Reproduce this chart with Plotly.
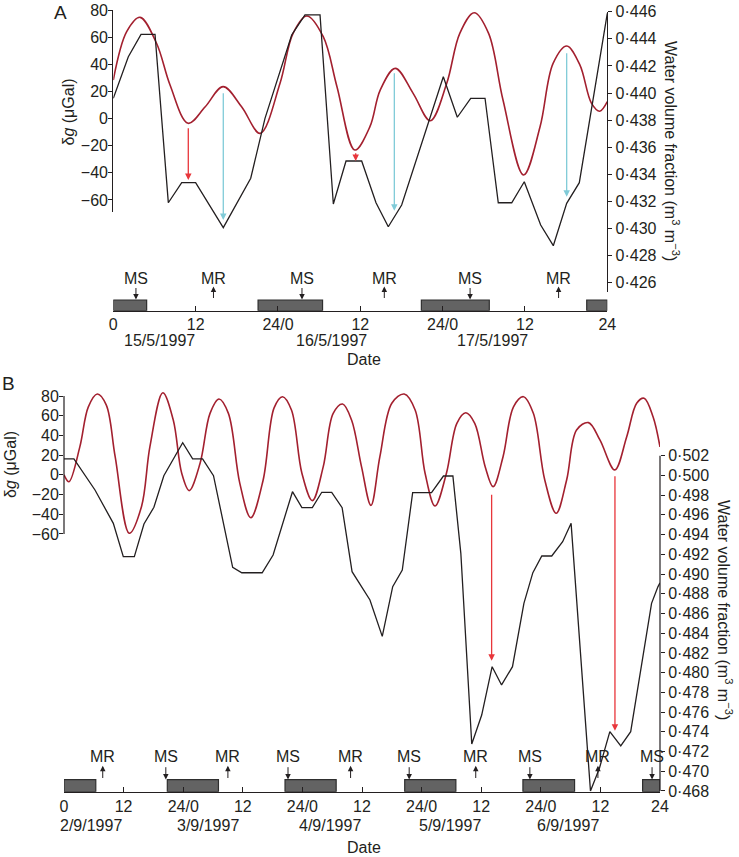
import plotly.graph_objects as go

W, H = 739, 857

# ---------------- Panel A : 15-17 May 1997 (hours) ----------------
A_grav_hours = [0, 1.95, 3.9, 6.3, 8.27, 10.9, 13.4, 16.0, 18.7, 21.4, 24.3, 26.2, 28.2, 30.6, 32.6,
                35.2, 37.4, 38.9, 41.1, 43.7, 46.2, 48.6, 50.5, 52.6, 54.7, 56.8, 59.8, 62.2, 64.1,
                66.1, 68.0, 69.7, 70.9, 72.0]
A_grav = [28.4, 64, 74.6, 55.5, 24.7, -3.5, 8.7, 23.5, 8.7, -10.9, 26, 62.8, 75.6, 60.3, 23.5,
          -23.2, -6, 21, 37, 18.6, -1.6, 26, 62.8, 78, 62.8, 13.7, -41.6, -6, 40.7,
          53.5, 39.5, 11.2, 5.4, 12.4]

A_water_hours = [0, 2.19, 4.04, 6.08, 8.02, 9.97, 12.0, 16.03, 20.03, 22.11, 26.0, 27.94, 30.13,
                 32.07, 33.92, 36.2, 38.29, 40.08, 42.03, 48.1, 50.14, 52.09, 54.18, 56.11, 58.07,
                 59.9, 62.29, 64.13, 66.08, 67.92, 72.0]
A_water = [0.43961, 0.44268, 0.44433, 0.44433, 0.43190, 0.43338, 0.43338, 0.43006, 0.43371,
           0.43813, 0.44428, 0.44576, 0.44576, 0.43181, 0.43498, 0.43498, 0.43190, 0.43013,
           0.43173, 0.44120, 0.43821, 0.43961, 0.43961, 0.43190, 0.43190, 0.43345, 0.43026,
           0.42873, 0.43186, 0.43338, 0.44588]

A_night_start = [0, 21.1, 44.9, 69.0]
A_night_end = [4.86, 30.5, 54.8, 72.0]
A_moon_labels = ["MS", "MR", "MS", "MR", "MS", "MR"]
A_moon_hours = [3.3, 14.6, 27.5, 39.5, 52.0, 64.9]

A_arrow_hours = [10.93, 16.03, 35.33, 40.96, 66.08]
A_arrow_from = [0.43751, 0.44010, 0.43567, 0.44157, 0.44305]
A_arrow_to = [0.43358, 0.43063, 0.43498, 0.43131, 0.43235]
A_arrow_kind = ["red", "cyan", "red", "cyan", "cyan"]

A_xtick_vals = [0, 12, 24, 36, 48, 60, 72]
A_xtick_text = ["0", "12", "24/0", "12", "24/0", "12", "24"]
A_dates = ["15/5/1997", "16/5/1997", "17/5/1997"]
A_date_hours = [6.73, 31.73, 55.34]
A_grav_ticks = [-60, -40, -20, 0, 20, 40, 60, 80]
A_water_ticks = [0.426, 0.428, 0.430, 0.432, 0.434, 0.436, 0.438, 0.440, 0.442, 0.444, 0.446]

# ---------------- Panel B : 2-6 September 1997 (hours) ----------------
B_grav_hours = [0, 1.0, 3.2, 4.9, 6.7, 8.5, 10.3, 13.15, 15.6, 17.3, 19.9, 22.0, 23.7, 25.2, 27.4,
                29.4, 31.2, 33.1, 35.4, 37.6, 40.1, 42.3, 44.0, 45.8, 47.9, 50.0, 52.2, 54.2, 56.1,
                57.9, 59.9, 61.8, 63.6, 66.0, 68.5, 70.7, 72.7, 74.7, 77.0, 79.1, 80.9, 82.7, 84.8,
                86.4, 88.4, 90.5, 92.5, 94.5, 96.8, 99.1, 101.2, 103.2, 105.6, 107.9, 110.9, 113.3,
                115.3, 116.8, 118.6, 120.0]
B_grav = [0, -7, 28.6, 69, 82, 71, 18.4, -59.3, -32.3, 28.6, 83.3, 55.6, 1.6, -16, 11.7,
          62.4, 77, 62.4, -8.6, -43.5, -5.2, 68, 79.3, 65.8, 1.6, -26.2, 8.3, 62.4, 71.9,
          55.6, 8.3, -31, 18.4, 72.6, 82, 65.8, 1.6, -31.6, 1.6, 52.3, 63, 52.3, 8.3,
          -12, 18.4, 69, 79.3, 62.4, -5.2, -39, -5.2, 45.5, 53, 35.4, 5, 38.7,
          72.6, 77.7, 59, 28.3]

B_water_hours = [0, 2.0, 6.24, 9.93, 11.94, 14.16, 16.1, 18.1, 20.1, 23.9, 25.9, 27.9, 30.1,
                 33.96, 35.8, 39.9, 42.1, 46.0, 47.9, 50.0, 51.9, 53.9, 56.0, 58.0, 61.6, 64.08,
                 66.18, 68.11, 70.2, 74.0, 76.4, 78.3, 79.9, 82.1, 84.1, 86.2, 88.1, 90.3, 92.6,
                 94.4, 96.2, 98.2, 100.4, 102.1, 106.0, 107.8, 109.9, 112.1, 114.1, 118.3, 119.6,
                 120.0]
B_water = [0.50167, 0.50167, 0.49852, 0.49514, 0.49176, 0.49176, 0.49507, 0.49677, 0.49997,
           0.50332, 0.50167, 0.50167, 0.49997, 0.49068, 0.49013, 0.49013, 0.49193, 0.49835,
           0.49673, 0.49673, 0.49829, 0.49829, 0.49673, 0.49024, 0.48737, 0.48368, 0.48871,
           0.49041, 0.49825, 0.49825, 0.49994, 0.49994, 0.49210, 0.47276, 0.47570, 0.48060,
           0.47875, 0.48060, 0.48703, 0.49014, 0.49183, 0.49183, 0.49328, 0.49514, 0.46800,
           0.47030, 0.47401, 0.47256, 0.47401, 0.48703, 0.48872, 0.48910]

B_night_start = [0, 20.8, 44.5, 68.6, 92.4, 116.5]
B_night_end = [6.4, 31.1, 54.8, 78.9, 102.8, 120.0]
B_moon_labels = ["MR", "MS", "MR", "MS", "MR", "MS", "MR", "MS", "MR", "MS"]
B_moon_hours = [7.8, 20.5, 33.0, 45.1, 57.7, 69.5, 82.9, 93.8, 107.5, 118.4]

B_arrow_hours = [86.1, 110.93]
B_arrow_from = [0.49819, 0.50006]
B_arrow_to = [0.48121, 0.47411]

B_xtick_vals = [0, 12, 24, 36, 48, 60, 72, 84, 96, 108, 120]
B_xtick_text = ["0", "12", "24/0", "12", "24/0", "12", "24/0", "12", "24/0", "12", "24"]
B_dates = ["2/9/1997", "3/9/1997", "4/9/1997", "5/9/1997", "6/9/1997"]
B_date_hours = [5.5, 29.0, 53.5, 77.7, 101.5]
B_grav_ticks = [-60, -40, -20, 0, 20, 40, 60, 80]
B_water_ticks = [0.468 + 0.002 * i for i in range(18)]

# ---------------- styling ----------------
FONT = "Liberation Sans, Arial, sans-serif"
INK = "#231f20"
RED = "#a3202f"
ARROW_COL = {"red": "#e8363b", "cyan": "#80cbd8"}
BAR_FILL = "#636363"
BAR_LINE = "#2e2e2e"
FS = 16


def fx(px):
    return px / W


def dom(top_px, bottom_px):
    return [1 - bottom_px / H, 1 - top_px / H]


def num(v):
    return str(v).replace("-", "\u2212")


def wat(v):
    return f"{v:.3f}".replace(".", "\u00b7")


# pixel geometry of the axes
A_left, A_right = 113.3, 607.3
B_left, B_right = 64.0, 660.0
A_g_top, A_g_bot = 10.0, 212.3
A_g_range = [80 - (A_g_bot - A_g_top) * 20 / 27.14, 80]
A_w_top, A_w_bot = 11.7, 292.0
A_w_range = [0.446 - (A_w_bot - A_w_top) * 0.002 / 27.1, 0.446]
A_base = 310.7
A_bar_px = 10.7
A_strip_units = 3.5
B_g_top, B_g_bot = 386.0, 534.0
B_g_range = [80 - (B_g_bot - 396) * 20 / 19.71, 80 + (396 - B_g_top) * 20 / 19.71]
B_w_top, B_w_bot = 430.0, 791.7
B_w_range = [0.502 - (B_w_bot - 455.7) * 0.002 / 19.72, 0.502 + (455.7 - B_w_top) * 0.002 / 19.72]
B_base = 791.7
B_bar_px = 12.0
B_strip_units = 3.2

fig = go.Figure()

fig.add_trace(go.Scatter(x=A_grav_hours, y=A_grav, xaxis="x", yaxis="y", mode="lines",
                         line=dict(color=RED, width=1.6, shape="spline", smoothing=1.0),
                         hoverinfo="skip", showlegend=False))
fig.add_trace(go.Scatter(x=A_water_hours, y=A_water, xaxis="x", yaxis="y2", mode="lines",
                         line=dict(color=INK, width=1.3), hoverinfo="skip", showlegend=False))
fig.add_trace(go.Bar(x=[(s + e) / 2 for s, e in zip(A_night_start, A_night_end)],
                     y=[1] * len(A_night_start), base=0,
                     width=[e - s for s, e in zip(A_night_start, A_night_end)],
                     xaxis="x", yaxis="y3", marker=dict(color=BAR_FILL, line=dict(color=BAR_LINE, width=1.2)),
                     hoverinfo="skip", showlegend=False))

fig.add_trace(go.Scatter(x=B_grav_hours, y=B_grav, xaxis="x2", yaxis="y4", mode="lines",
                         line=dict(color=RED, width=1.6, shape="spline", smoothing=1.0),
                         hoverinfo="skip", showlegend=False))
fig.add_trace(go.Scatter(x=B_water_hours, y=B_water, xaxis="x2", yaxis="y5", mode="lines",
                         line=dict(color=INK, width=1.3), hoverinfo="skip", showlegend=False))
fig.add_trace(go.Bar(x=[(s + e) / 2 for s, e in zip(B_night_start, B_night_end)],
                     y=[1] * len(B_night_start), base=0,
                     width=[e - s for s, e in zip(B_night_start, B_night_end)],
                     xaxis="x2", yaxis="y6", marker=dict(color=BAR_FILL, line=dict(color=BAR_LINE, width=1.2)),
                     hoverinfo="skip", showlegend=False))

tickfont = dict(family=FONT, size=FS, color=INK)
common = dict(showgrid=False, zeroline=False, automargin=False, tickfont=tickfont,
              linecolor=INK, tickcolor=INK, linewidth=1.2, tickwidth=1.1, fixedrange=True)

layout = dict(
    template="none",
    width=W, height=H,
    margin=dict(l=0, r=0, t=0, b=0),
    paper_bgcolor="white", plot_bgcolor="rgba(0,0,0,0)",
    barmode="overlay", showlegend=False,
    font=dict(family=FONT, size=FS, color=INK),
    xaxis=dict(domain=[fx(A_left), fx(A_right)], range=[0, 72], anchor="y3", showline=True,
               ticks="inside", ticklen=5, tickvals=A_xtick_vals, ticktext=A_xtick_text,
               ticklabelstandoff=-1, **common),
    yaxis=dict(domain=dom(A_g_top, A_g_bot), range=A_g_range, anchor="x", showline=True,
               ticks="outside", ticklen=4, tickvals=A_grav_ticks, ticklabelstandoff=-3,
               ticktext=[num(v) for v in A_grav_ticks], **common),
    yaxis2=dict(domain=dom(A_w_top, A_w_bot), range=A_w_range, anchor="x", side="right",
                showline=True, ticks="outside", ticklen=4, tickvals=A_water_ticks,
                ticktext=[wat(v) for v in A_water_ticks], **common),
    yaxis3=dict(domain=dom(A_base - A_strip_units * A_bar_px, A_base), range=[0, A_strip_units],
                anchor="x", visible=False, fixedrange=True),
    xaxis2=dict(domain=[fx(B_left), fx(B_right)], range=[0, 120], anchor="y6", showline=True,
                ticks="inside", ticklen=5, tickvals=B_xtick_vals, ticktext=B_xtick_text, **common),
    yaxis4=dict(domain=dom(B_g_top, B_g_bot), range=B_g_range, anchor="x2", showline=False,
                ticks="outside", ticklen=4, tickvals=B_grav_ticks, ticklabelstandoff=-3,
                ticktext=[num(v) for v in B_grav_ticks], **common),
    yaxis5=dict(domain=dom(B_w_top, B_w_bot), range=B_w_range, anchor="x2", side="right",
                showline=False, ticks="outside", ticklen=4, tickvals=B_water_ticks,
                ticktext=[wat(v) for v in B_water_ticks], **common),
    yaxis6=dict(domain=dom(B_base - B_strip_units * B_bar_px, B_base), range=[0, B_strip_units],
                anchor="x2", visible=False, fixedrange=True),
)
fig.update_layout(**layout)

fig.add_shape(type="line", xref="paper", yref="y4", x0=fx(B_left), x1=fx(B_left),
              y0=min(B_grav_ticks), y1=max(B_grav_ticks), line=dict(color=INK, width=1.2))
fig.add_shape(type="line", xref="paper", yref="y5", x0=fx(B_right), x1=fx(B_right),
              y0=min(B_water_ticks), y1=max(B_water_ticks), line=dict(color=INK, width=1.2))

ann = []


def text_ann(x, y, text, xref="paper", yref="paper", size=FS, angle=0):
    ann.append(dict(x=x, y=y, xref=xref, yref=yref, text=text, showarrow=False,
                    font=dict(family=FONT, size=size, color=INK), textangle=angle,
                    xanchor="center", yanchor="middle"))


def arrow_ann(x, y_head, y_tail, xref, yref, color, width=1.1, size=1.2):
    ann.append(dict(x=x, y=y_head, ax=x, ay=y_tail, xref=xref, yref=yref, axref=xref, ayref=yref,
                    text="", showarrow=True, arrowhead=2, arrowsize=size, arrowwidth=width,
                    arrowcolor=color, standoff=0, startstandoff=0))


def moon(labels, hours, xref, yref, bar_px, base_px, text_px, hi_px, lo_px):
    for lab, h in zip(labels, hours):
        yt = (base_px - text_px) / bar_px
        yhi = (base_px - hi_px) / bar_px
        ylo = (base_px - lo_px) / bar_px
        text_ann(h, yt, lab, xref=xref, yref=yref)
        if lab == "MS":
            arrow_ann(h, ylo, yhi, xref, yref, INK, width=1.0, size=1.1)
        else:
            arrow_ann(h, yhi, ylo, xref, yref, INK, width=1.0, size=1.1)


moon(A_moon_labels, A_moon_hours, "x", "y3", A_bar_px, A_base, 278.3, 286.5, 299.5)
moon(B_moon_labels, B_moon_hours, "x2", "y6", B_bar_px, B_base, 756.7, 765.7, 779.5)

for h, f, t, k in zip(A_arrow_hours, A_arrow_from, A_arrow_to, A_arrow_kind):
    arrow_ann(h, t, f, "x", "y2", ARROW_COL[k], width=1.3, size=1.0)
for h, f, t in zip(B_arrow_hours, B_arrow_from, B_arrow_to):
    arrow_ann(h, t, f, "x2", "y5", ARROW_COL["red"], width=1.3, size=1.0)

for d, h in zip(A_dates, A_date_hours):
    text_ann(h, 1 - 340 / H, d, xref="x")
for d, h in zip(B_dates, B_date_hours):
    text_ann(h, 1 - 825 / H, d, xref="x2")
text_ann(fx(364), 1 - 360 / H, "Date")
text_ann(fx(364), 1 - 847 / H, "Date")

text_ann(fx(68), 1 - 112.5 / H, "\u03b4<i>g</i> (\u03bcGal)", angle=-90)
text_ann(fx(10), 1 - 465 / H, "\u03b4<i>g</i> (\u03bcGal)", angle=-90)
text_ann(fx(672), 1 - 151 / H, "Water volume fraction (m<sup>3</sup> m<sup>\u22123</sup>)", angle=90)
text_ann(fx(725), 1 - 610 / H, "Water volume fraction (m<sup>3</sup> m<sup>\u22123</sup>)", angle=90)

text_ann(fx(60), 1 - 12 / H, "A", size=19)
text_ann(fx(8), 1 - 383 / H, "B", size=19)

fig.update_layout(annotations=ann)
fig.write_html("out.html", config={"displayModeBar": False},
               post_script="document.body.style.margin='0';document.body.style.overflow='hidden';")
